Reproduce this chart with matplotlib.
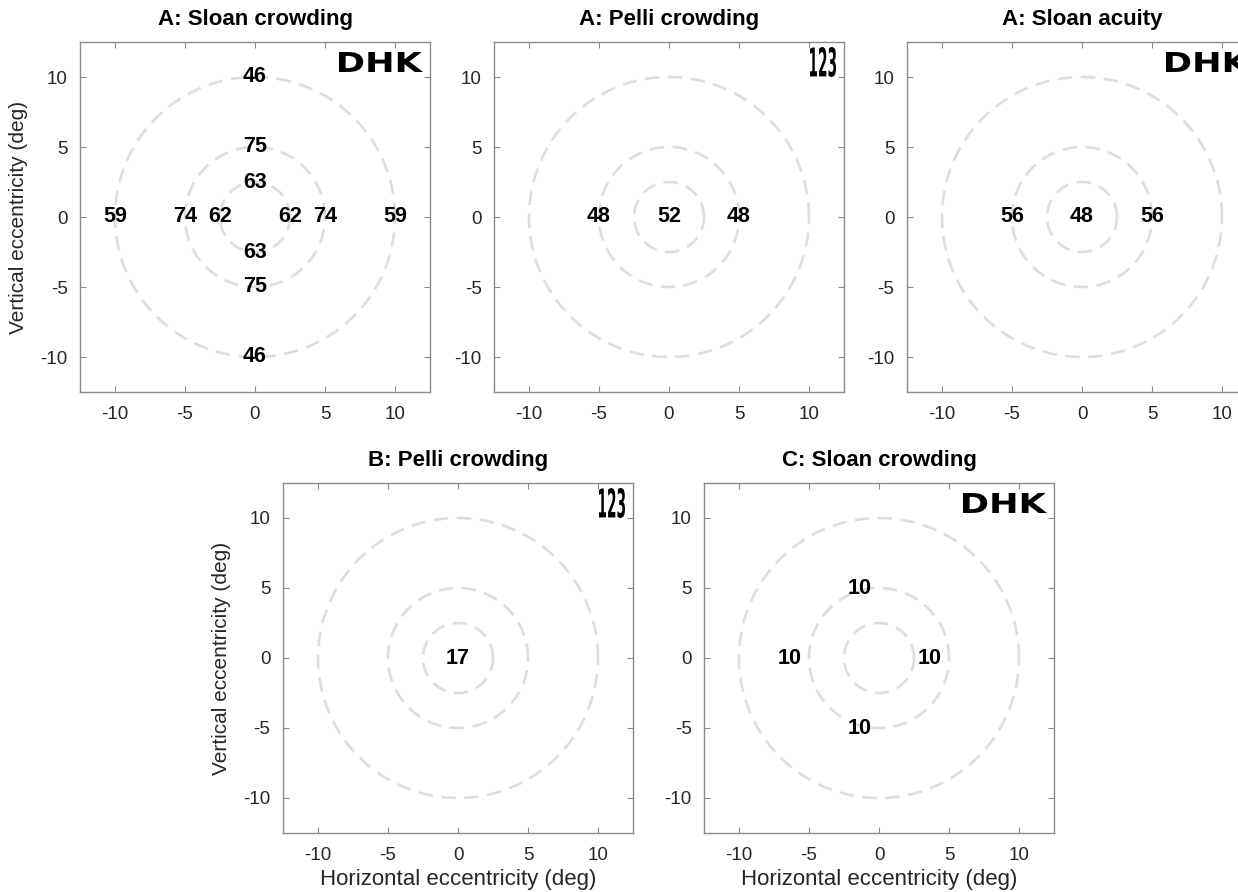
import numpy as np
import matplotlib
matplotlib.use("Agg")
import matplotlib.pyplot as plt
from matplotlib.textpath import TextPath
from matplotlib.patches import PathPatch
from matplotlib.font_manager import FontProperties
import matplotlib.transforms as mtransforms

plt.rcParams['font.family'] = ['Liberation Sans', 'DejaVu Sans']
plt.rcParams['axes.unicode_minus'] = False

# ---- data ----
titles = ["A: Sloan crowding", "A: Pelli crowding", "A: Sloan acuity",
          "B: Pelli crowding", "C: Sloan crowding"]
icons = ["DHK", "123", "DHK", "123", "DHK"]
ring_radii = [2.5, 5, 10]

sloan_crowd_x = [0, 0, 0, 0, 0, 0, -10, -5, -2.5, 2.5, 5, 10]
sloan_crowd_y = [10, 5, 2.5, -2.5, -5, -10, 0, 0, 0, 0, 0, 0]
sloan_crowd_v = [46, 75, 63, 63, 75, 46, 59, 74, 62, 62, 74, 59]

pelli_crowd_x = [-5, 0, 5]
pelli_crowd_y = [0, 0, 0]
pelli_crowd_v = [48, 52, 48]

sloan_acuity_x = [-5, 0, 5]
sloan_acuity_y = [0, 0, 0]
sloan_acuity_v = [56, 48, 56]

b_pelli_x = [0]
b_pelli_y = [0]
b_pelli_v = [17]

c_sloan_x = [0, -5, 5, 0]
c_sloan_y = [5, 0, 0, -5]
c_sloan_v = [10, 10, 10, 10]

ticks = [-10, -5, 0, 5, 10]

panels = [
    (sloan_crowd_x, sloan_crowd_y, sloan_crowd_v),
    (pelli_crowd_x, pelli_crowd_y, pelli_crowd_v),
    (sloan_acuity_x, sloan_acuity_y, sloan_acuity_v),
    (b_pelli_x, b_pelli_y, b_pelli_v),
    (c_sloan_x, c_sloan_y, c_sloan_v),
]

# ---- layout (pixels) ----
W, H = 1238, 892
fig = plt.figure(figsize=(W / 100, H / 100), dpi=100)

boxes = [  # left, top (pixels), size 350
    (80, 42), (494, 42), (907, 42), (283, 483), (704, 483)
]
label_dx = [0, 0, 0, 0, -19]  # pixel shifts of value labels
size = 350

edge = "#8c8c8c"
tickc = "#262626"

def icon(ax, txt, w, h, right_in, top_in):
    fp = FontProperties(family='DejaVu Sans', weight='bold')
    tp = TextPath((0, 0), txt, size=1, prop=fp)
    ext = tp.get_extents()
    tr = (mtransforms.Affine2D()
          .translate(-ext.x1, -ext.y1)
          .scale(w / ext.width, h / ext.height)
          .translate(-right_in, -top_in)
          + mtransforms.ScaledTranslation(1, 1, ax.transAxes))
    ax.add_patch(PathPatch(tp, transform=tr, color='black', lw=0,
                           clip_on=False))

th = np.linspace(0, 2 * np.pi, 400)
for i, (ttl, ic, (xs, ys, vs), (l, t)) in enumerate(zip(titles, icons, panels, boxes)):
    ax = fig.add_axes([l / W, (H - t - size) / H, size / W, size / H])
    for r in ring_radii:
        ax.plot(r * np.cos(th), r * np.sin(th), ls=(0, (5.5, 3.2)),
                color="#dedede", lw=1.9)
    ax.set_xlim(-12.5, 12.5)
    ax.set_ylim(-12.5, 12.5)
    ax.set_xticks(ticks)
    ax.set_yticks(ticks)
    ax.tick_params(direction='in', top=True, right=True, length=4,
                   width=0.8, color=edge, labelsize=13.5,
                   labelcolor=tickc)
    ax.tick_params(axis='x', pad=10)
    ax.tick_params(axis='y', pad=9)
    for s in ax.spines.values():
        s.set_color(edge)
        s.set_linewidth(1.0)
    ax.set_title(ttl, fontsize=16, fontweight='bold', pad=12)
    trans = mtransforms.offset_copy(ax.transData, fig=fig,
                                    x=label_dx[i] / 100, y=0, units='inches')
    for x, y, v in zip(xs, ys, vs):
        ax.text(x, y, str(v), transform=trans, ha='center', va='center',
                fontsize=15.5, fontweight='bold', color='black')
    if ic == "DHK":
        icon(ax, ic, 84, 20, 7, 10)
    else:
        icon(ax, ic, 26, 30, 8, 5)
    if i in (0, 3):
        ax.set_ylabel("Vertical eccentricity (deg)", fontsize=15,
                      color=tickc, labelpad=9)
    if i in (3, 4):
        ax.set_xlabel("Horizontal eccentricity (deg)", fontsize=16,
                      color=tickc, labelpad=4)

fig.savefig("out.png", dpi=100)
